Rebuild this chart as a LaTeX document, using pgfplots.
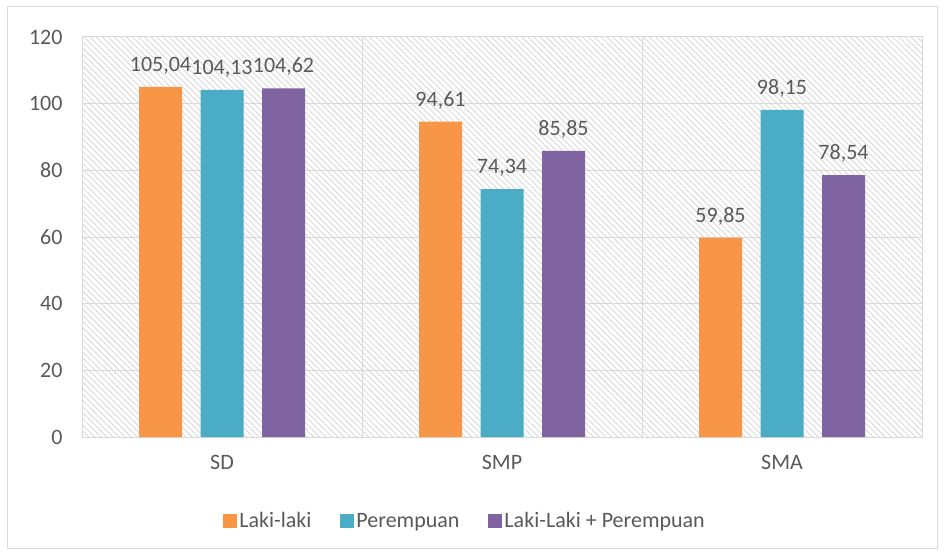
\documentclass[border=0pt]{standalone}
\usepackage{fontspec}
\setmainfont{Carlito}
\usepackage{pgfplots}
\pgfplotsset{compat=1.18}
\usetikzlibrary{patterns.meta}
\definecolor{cOr}{HTML}{F79646}
\definecolor{cTe}{HTML}{4BACC6}
\definecolor{cPu}{HTML}{8064A2}
\definecolor{txt}{HTML}{595959}
\definecolor{gl}{HTML}{D9D9D9}
\begin{document}
\begin{tikzpicture}
\path (0,0) rectangle (944pt,555pt);
\draw[gl, line width=1pt] (7pt,7pt) rectangle (937pt,548pt);
\begin{axis}[
 at={(82pt,118pt)}, anchor=south west,
 scale only axis, width=840pt, height=400pt,
 ybar=18.5pt, bar width=43pt,
 xmin=-0.5, xmax=2.5, ymin=0, ymax=120,
 xtick={0,1,2}, xticklabels={SD,SMP,SMA},
 minor xtick={0.5,1.5}, xminorgrids, ymajorgrids,
 ytick={0,20,...,120},
 major tick length=0pt, minor tick length=0pt,
 axis line style={gl, line width=1pt},
 grid style={gl, line width=1pt},
 minor grid style={gl, line width=1pt},
 tick style={draw=none},
 axis background/.style={pattern={Lines[angle=-45,distance=4.3pt,line width=0.9pt]}, pattern color=gl},
 ticklabel style={font=\fontsize{22}{26}\selectfont, text=txt},
 /pgf/number format/assume math mode=true,
 yticklabel style={xshift=-16pt},
 xticklabel style={yshift=-15pt},
 nodes near coords={\pgfmathprintnumber[fixed,fixed zerofill,precision=2,use comma,assume math mode=true]{\pgfplotspointmeta}},
 nodes near coords style={font=\fontsize{22}{26}\selectfont, text=txt, anchor=south, yshift=9pt},
 legend columns=3,
 legend style={at={(0.456,-0.21)}, anchor=center, draw=none, fill=none,
   font=\fontsize{22}{26}\selectfont, text=txt,
   /tikz/every even column/.append style={column sep=27pt}},
 mybar/.style={fill=#1, draw=none,
   legend image code/.code={\fill[#1] (0pt,-7pt) rectangle (14pt,7pt);}},
]
\addplot[mybar=cOr] coordinates {(0,105.04) (1,94.61) (2,59.85)};
\addplot[mybar=cTe] coordinates {(0,104.13) (1,74.34) (2,98.15)};
\addplot[mybar=cPu] coordinates {(0,104.62) (1,85.85) (2,78.54)};
\legend{Laki-laki, Perempuan, Laki-Laki + Perempuan}
\end{axis}
\end{tikzpicture}
\end{document}
